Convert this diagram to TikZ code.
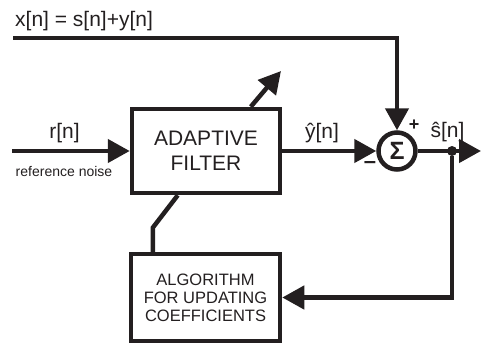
\documentclass[tikz,border=0pt]{standalone}
\usepackage{fontspec}
\setmainfont{Liberation Sans}
\usetikzlibrary{arrows.meta}
\definecolor{ink}{HTML}{231F20}
\begin{document}
\begin{tikzpicture}[x=1pt,y=-1pt,
  wire/.style={line width=4.5pt, draw=ink},
  arr/.style={wire, -{Triangle[length=22pt,width=23pt]}},
  blk/.style={draw=ink, line width=4.5pt, rectangle, inner sep=0pt, align=center, text=ink},
  lbl/.style={font=\fontsize{21}{24}\selectfont, text=ink, inner sep=0pt},
  sml/.style={font=\fontsize{14}{16}\selectfont, text=ink, inner sep=0pt},
  sgn/.style={font=\fontsize{18}{20}\selectfont\bfseries, text=ink, inner sep=0pt}
]
\useasboundingbox (0,0) rectangle (481,345);

% blocks
\node[blk, minimum width=148pt, minimum height=84pt,
      font=\fontsize{21}{25}\selectfont] (af) at (206,151) {ADAPTIVE\\FILTER};
\node[blk, minimum width=149pt, minimum height=87pt,
      font=\fontsize{16.5}{18}\selectfont] (algo) at (205.5,297.5)
      {ALGORITHM\\FOR UPDATING\\COEFFICIENTS};
\node[draw=ink, line width=4.5pt, circle, minimum size=37pt, inner sep=0pt,
      font=\fontsize{25}{25}\selectfont\bfseries, text=ink] (sum) at (397,151) {Σ};

% coordinates
\coordinate (xin) at (13,38);
\coordinate (rin) at (12,151);
\coordinate (out) at (481,151);
\coordinate (tip) at (281,71);
\coordinate (bend) at ([xshift=24pt]algo.north west);
\node[circle, fill=ink, inner sep=0pt, minimum size=10pt] (dot) at (452,151) {};

% connectors
\draw[arr] (xin) -| (sum.north);
\draw[arr] (rin) -- (af.west);
\draw[arr] (af.east) -- (sum.west);
\draw[arr] (sum.east) -- (out);
\draw[arr] (dot) |- (algo.east);
\draw[arr] ([xshift=121pt]af.north west) -- (tip);
\draw[wire] (bend) -- ++(0,-24) -- ([xshift=48pt]af.south west);

% labels
\node[lbl, anchor=base west] (xlab) at (15,27) {x[n] = s[n]+y[n]};
\node[lbl, anchor=base] (rlab) at (64.5,138) {r[n]};
\node[sml, anchor=base] (rnoise) at (64,176) {reference noise};
\node[lbl, anchor=base] (ylab) at (322,138) {ŷ[n]};
\node[lbl, anchor=base] (slab) at (447.5,137) {ŝ[n]};
\node[sgn] (plus) at (414,125) {+};
\node[sgn, font=\fontsize{22}{22}\selectfont\bfseries] (minus) at (370,165) {–};
\end{tikzpicture}
\end{document}
